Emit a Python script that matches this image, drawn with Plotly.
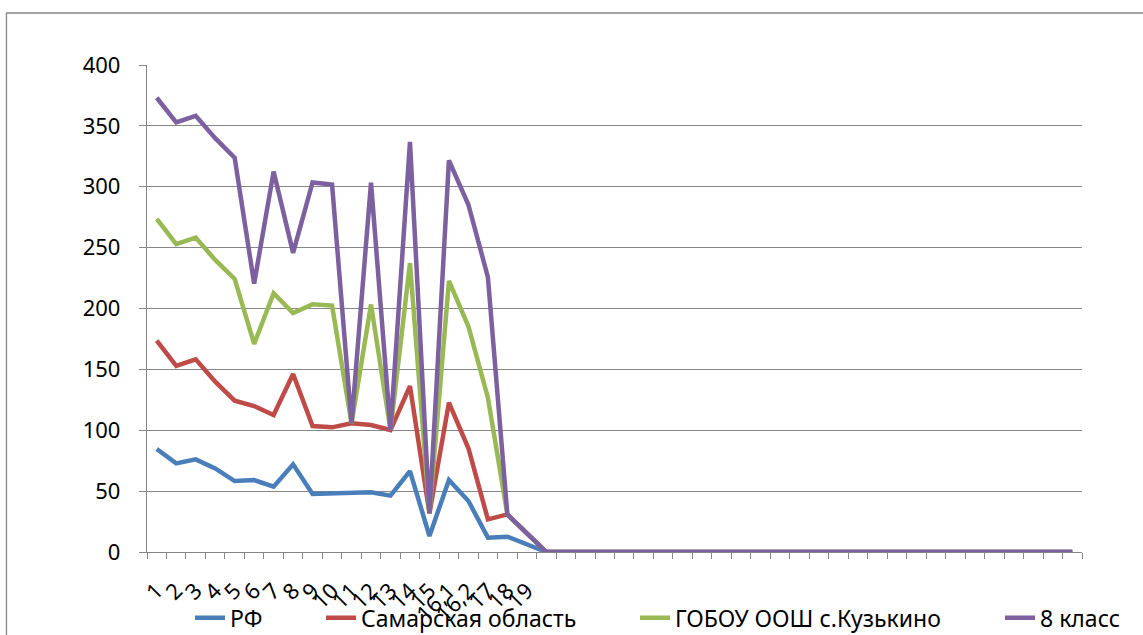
import plotly.graph_objects as go

# ---- data ----
CATEGORIES = ["1", "2", "3", "4", "5", "6", "7", "8", "9", "10",
              "11", "12", "13", "14", "15", "16,1", "16,2", "17", "18", "19",
              "", "", "", "", "", "", "", "", "", "", "", "", "", "",
              "", "", "", "", "", "", "", "", "", "", "", "", "", ""]

RF = [84.6, 72.8, 76.1, 68.7, 58.3, 59.1, 53.7, 72.0, 47.6, 48.2,
      48.7, 49.0, 46.3, 66.5, 13.1, 59.1, 41.9, 11.8, 12.6, 6.5,
      0, 0, 0, 0, 0, 0, 0, 0, 0, 0, 0, 0, 0, 0,
      0, 0, 0, 0, 0, 0, 0, 0, 0, 0, 0, 0, 0, 0]

SAMARA = [89.0, 80.0, 82.2, 71.2, 66.0, 60.8, 58.8, 74.2, 55.9, 54.2,
          57.0, 55.3, 53.9, 69.8, 18.7, 63.5, 43.3, 15.0, 18.3, 9.5,
          0, 0, 0, 0, 0, 0, 0, 0, 0, 0, 0, 0, 0, 0,
          0, 0, 0, 0, 0, 0, 0, 0, 0, 0, 0, 0, 0, 0]

SCHOOL = [100, 100, 100, 100, 100, 51, 100, 50, 100, 100,
          0, 99, 0, 101, 0, 100, 100, 100, 0, 0,
          0, 0, 0, 0, 0, 0, 0, 0, 0, 0, 0, 0, 0, 0,
          0, 0, 0, 0, 0, 0, 0, 0, 0, 0, 0, 0, 0, 0]

CLASS8 = [99.5, 100, 100, 100, 99.5, 49.5, 100, 49.5, 100, 99.5,
          0, 100, 0, 99.5, 0, 99, 100, 99, 0, 0,
          0, 0, 0, 0, 0, 0, 0, 0, 0, 0, 0, 0, 0, 0,
          0, 0, 0, 0, 0, 0, 0, 0, 0, 0, 0, 0, 0, 0]

SERIES_NAMES = ["РФ", "Самарская область", "ГОБОУ ООШ с.Кузькино", "8 класс"]
SERIES_COLORS = ["#4A7EBB", "#BE4B48", "#98B954", "#7D60A0"]

Y_TICKS = [0, 50, 100, 150, 200, 250, 300, 350, 400]

# ---- figure ----
FONT = "Noto Sans"
GRID = "#868686"

x_idx = list(range(len(CATEGORIES)))
fig = go.Figure()

legend_names = ["legend", "legend2", "legend3", "legend4"]
for vals, name, color, lg in zip([RF, SAMARA, SCHOOL, CLASS8], SERIES_NAMES,
                                 SERIES_COLORS, legend_names):
    fig.add_trace(go.Scatter(
        x=x_idx, y=vals, name=name, mode="lines",
        stackgroup="one", fill="none",
        line=dict(color=color, width=4.5),
        legend=lg,
    ))

# dummy trace for the boundary-tick axis
fig.add_trace(go.Scatter(x=[0], y=[0], xaxis="x2", mode="markers",
                         marker=dict(opacity=0), showlegend=False,
                         hoverinfo="skip"))

n = len(CATEGORIES)
fig.update_layout(
    width=1143, height=635,
    margin=dict(l=147, r=61, t=65, b=83, autoexpand=False),
    paper_bgcolor="white", plot_bgcolor="white",
    font=dict(family=FONT, size=22, color="black"),
    showlegend=True,
    xaxis=dict(
        range=[-0.5, n - 0.5], tickmode="array",
        tickvals=x_idx, ticktext=CATEGORIES, tickangle=-45,
        ticks="", showgrid=False, zeroline=False, automargin=False,
        showline=True, linecolor=GRID, linewidth=1.3,
        ticklabelstandoff=16,
        tickfont=dict(family=FONT, size=22, color="black"),
    ),
    xaxis2=dict(
        range=[-0.5, n - 0.5], overlaying="x", anchor="y",
        tickmode="array", tickvals=[i - 0.5 for i in range(n + 1)],
        ticks="outside", ticklen=6, tickcolor=GRID, tickwidth=1.3,
        showticklabels=False, showgrid=False, zeroline=False, showline=False,
        side="bottom", automargin=False,
    ),
    yaxis=dict(
        range=[0, 400], tickmode="array", tickvals=Y_TICKS,
        showgrid=True, gridcolor=GRID, gridwidth=1.3, automargin=False,
        zeroline=False, showline=True, linecolor=GRID, linewidth=1.3,
        ticks="outside", ticklen=7, tickcolor=GRID, tickwidth=1.3,
        ticklabelstandoff=14,
        tickfont=dict(family=FONT, size=22, color="black"),
    ),
    shapes=[dict(type="rect", xref="paper", yref="paper",
                 x0=-0.1503, x1=1.08, y0=-0.19, y1=1.1068,
                 line=dict(color=GRID, width=1.3), layer="below")],
)

leg_common = dict(orientation="h", xanchor="left", yanchor="middle",
                  y=-0.135, bgcolor="rgba(0,0,0,0)", borderwidth=0,
                  font=dict(family=FONT, size=23, color="black"))
text_starts = [230, 361, 675, 1040]
plot_left, plot_w = 147, 935
for lg, ts in zip(legend_names, text_starts):
    fig.update_layout({lg: dict(leg_common, x=(ts - 40 - plot_left) / plot_w)})

fig.write_html("out.html")
